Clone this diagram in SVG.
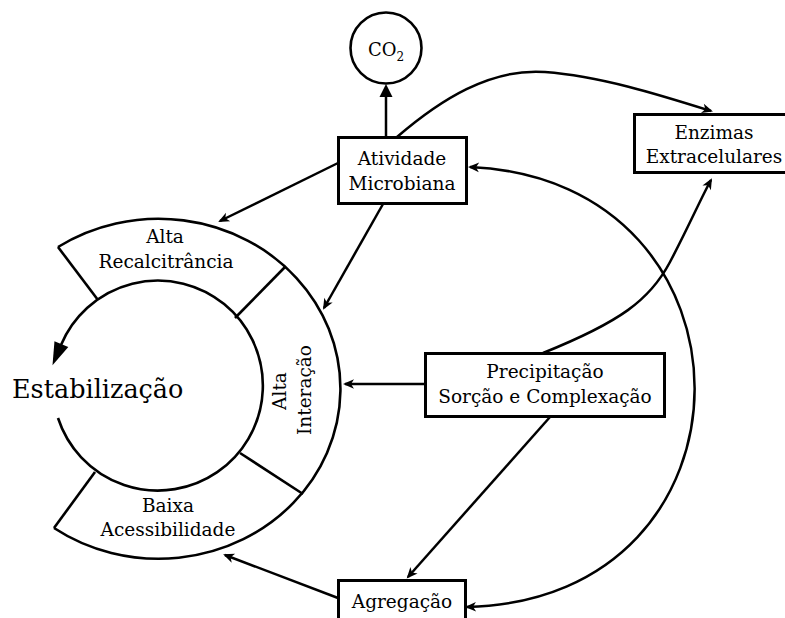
<svg xmlns="http://www.w3.org/2000/svg" width="785" height="618" viewBox="0 0 785 618">
  <defs>
    <style>
      text { font-family: "DejaVu Serif", "Liberation Serif", serif; fill: #000; }
      .lbl { font-size: 18.5px; text-anchor: middle; }
      .big { font-size: 25.5px; }
      .box { fill: #fff; stroke: #000; stroke-width: 3; }
      .ring { fill: none; stroke: #000; stroke-width: 2.6; }
      .edge { fill: none; stroke: #000; stroke-width: 2.5; }
    </style>
    <marker id="tip" markerUnits="userSpaceOnUse" viewBox="-11 -6 14 12" refX="0" refY="0" markerWidth="14" markerHeight="12" orient="auto-start-reverse">
      <path d="M2,0 L-9,-4.8 L-6,0 L-9,4.8 Z" fill="#000"/>
    </marker>
    <marker id="head" markerUnits="userSpaceOnUse" viewBox="-2 -8 16 16" refX="0" refY="0" markerWidth="16" markerHeight="16" orient="auto">
      <path d="M-1,-6.5 L12,0 L-1,6.5 Z" fill="#000"/>
    </marker>
    <marker id="cycle" markerUnits="userSpaceOnUse" viewBox="-2 -9 26 18" refX="0" refY="0" markerWidth="26" markerHeight="18" orient="auto">
      <path d="M-1,-7.5 L22,0 L-1,7.5 Z" fill="#000"/>
    </marker>
  </defs>

  <!-- stabilisation ring -->
  <g id="ring">
    <path class="ring" d="M 58 247 A 182 170 0 1 1 54 528"/>
    <line class="ring" x1="58" y1="247" x2="98" y2="300"/>
    <line class="ring" x1="54" y1="528" x2="95" y2="472"/>
    <line class="ring" x1="285" y1="267" x2="235" y2="318"/>
    <line class="ring" x1="303" y1="494" x2="240" y2="453"/>
    <path class="ring" d="M 58 418 A 105 105 0 1 0 61 345" marker-end="url(#cycle)"/>
  </g>

  <g id="estabilizacao">
    <text class="big" x="12" y="398">Estabilização</text>
  </g>

  <g id="alta-recalcitrancia">
    <text class="lbl" x="165" y="243">Alta</text>
    <text class="lbl" x="166" y="268">Recalcitrância</text>
  </g>

  <g id="alta-interacao">
    <text class="lbl" transform="translate(286,391) rotate(-90)">Alta</text>
    <text class="lbl" transform="translate(311,390) rotate(-90)">Interação</text>
  </g>

  <g id="baixa-acessibilidade">
    <text class="lbl" x="168" y="512">Baixa</text>
    <text class="lbl" x="168" y="536">Acessibilidade</text>
  </g>

  <g id="co2">
    <circle cx="386" cy="48" r="35.5" fill="#fff" stroke="#000" stroke-width="2.6"/>
    <text x="368" y="56" style="font-size:18px">CO<tspan dy="5" style="font-size:12px">2</tspan></text>
  </g>

  <g id="atividade-microbiana">
    <rect class="box" x="338.5" y="137.5" width="128" height="66"/>
    <text class="lbl" x="402" y="165">Atividade</text>
    <text class="lbl" x="402" y="190">Microbiana</text>
  </g>

  <g id="enzimas-extracelulares">
    <rect class="box" x="634.5" y="114.5" width="160" height="58"/>
    <text class="lbl" x="714" y="139">Enzimas</text>
    <text class="lbl" x="714" y="163">Extracelulares</text>
  </g>

  <g id="precipitacao">
    <rect class="box" x="425.5" y="353.5" width="239" height="63"/>
    <text class="lbl" x="545" y="378">Precipitação</text>
    <text class="lbl" x="545" y="403">Sorção e Complexação</text>
  </g>

  <g id="agregacao">
    <rect class="box" x="338.5" y="580.5" width="127" height="50"/>
    <text class="lbl" x="402" y="608">Agregação</text>
  </g>

  <!-- connectors -->
  <g id="connectors">
    <line class="edge" x1="386" y1="137" x2="386" y2="96" stroke-width="3" marker-end="url(#head)"/>
    <line class="edge" x1="338" y1="163" x2="220" y2="221" marker-end="url(#tip)"/>
    <line class="edge" x1="383" y1="204" x2="324" y2="308" marker-end="url(#tip)"/>
    <path class="edge" d="M 397 137 C 440 100 490 68 545 72 C 600 76 660 95 711 111" marker-end="url(#tip)"/>
    <line class="edge" x1="425" y1="384" x2="345" y2="384" marker-end="url(#tip)"/>
    <path class="edge" d="M 543 353 C 620 322 650 300 670 262 S 700 200 711 180" marker-end="url(#tip)"/>
    <line class="edge" x1="550" y1="417" x2="408" y2="577" marker-end="url(#tip)"/>
    <line class="edge" x1="338" y1="598" x2="225" y2="555" marker-end="url(#tip)"/>
    <path class="edge" d="M 470 167 C 770 180 770 600 467 607" marker-start="url(#tip)" marker-end="url(#tip)"/>
  </g>
</svg>
